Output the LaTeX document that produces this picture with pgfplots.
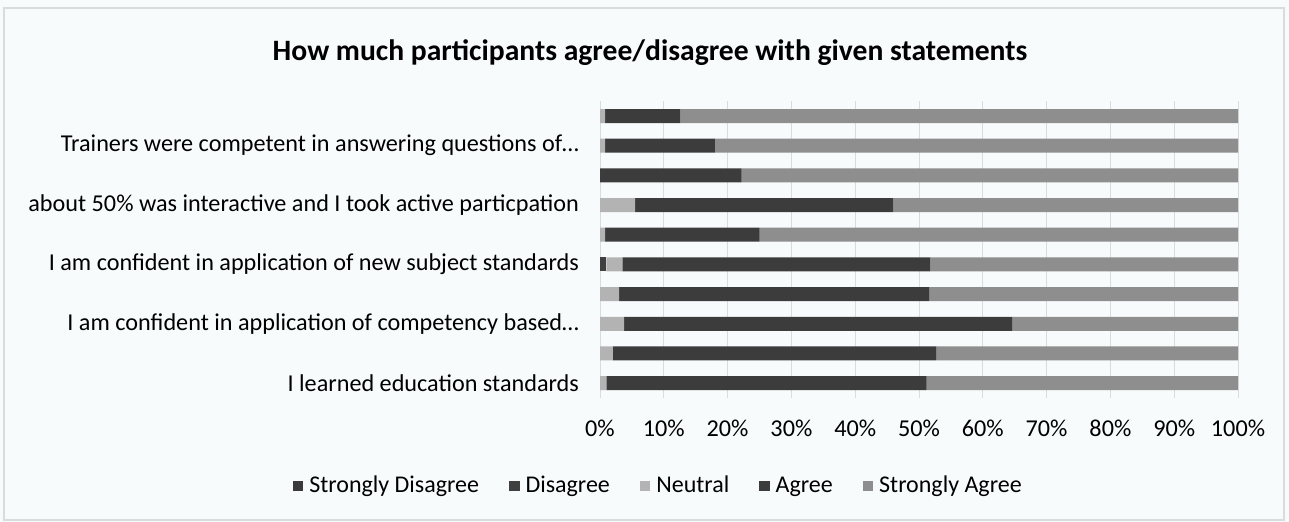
\documentclass[border=0pt]{standalone}
\usepackage{pgfplots}
\pgfplotsset{compat=1.18}
\usepackage{fontspec}
\setmainfont{Carlito}
\definecolor{bg}{HTML}{F7FBFC}
\definecolor{cSD}{HTML}{3A3A3A}
\definecolor{cD}{HTML}{404040}
\definecolor{cN}{HTML}{B3B3B3}
\definecolor{cA}{HTML}{3C3C3C}
\definecolor{cSA}{HTML}{8E8E8E}
\definecolor{gridc}{HTML}{D8DCDD}
\begin{document}
\begin{tikzpicture}
\path[use as bounding box, fill=bg] (0,0) rectangle (644.5pt,261pt);
\draw[gridc, line width=0.6pt] (2pt,1pt) rectangle (642pt,257pt);
\node[font=\fontsize{14.8}{16}\selectfont\bfseries] at (325pt,234.5pt) {How much participants agree/disagree with given statements};
\begin{axis}[
  at={(300pt,62pt)}, anchor=south west,
  scale only axis, width=319pt, height=148.4pt,
  xbar stacked, bar width=7pt,
  xmin=0, xmax=100, ymin=-0.5, ymax=9.5,
  axis line style={draw=none},
  xtick={0,10,20,30,40,50,60,70,80,90,100},
  xticklabel={\pgfmathprintnumber{\tick}\%},
  /pgf/number format/assume math mode=true,
  xmajorgrids, major grid style={gridc, line width=0.5pt},
  major tick length=0pt,
  ytick={0,2,4,6,8},
  yticklabels={{I learned education standards},
    {I am confident in application of competency based…},
    {I am confident in application of new subject standards},
    {about 50\% was interactive and I took active particpation},
    {Trainers were competent in answering questions of…}},
  ticklabel style={font=\fontsize{12.1}{14}\selectfont, text=black},
  xticklabel style={yshift=-7.5pt},
  yticklabel style={xshift=-7pt},
  legend columns=5,
  legend style={at={(0.093,-0.296)}, anchor=center, draw=none, fill=none,
    font=\fontsize{12}{14}\selectfont, text=black,
    /tikz/every odd column/.append style={column sep=1pt},
    /tikz/every even column/.append style={column sep=13pt}},
  legend image code/.code={\fill[#1] (0pt,-2.6pt) rectangle (5.2pt,2.6pt);},
]
\addplot[fill=cSD, draw=none] coordinates {(0,0) (0,1) (0,2) (0,3) (0,4) (0,5) (0,6) (0,7) (0,8) (0,9)};
\addplot[fill=cD, draw=none] coordinates {(0,0) (0,1) (0,2) (0,3) (1,4) (0,5) (0,6) (0,7) (0,8) (0,9)};
\addplot[fill=cN, draw=none] coordinates {(1,0) (2,1) (3.8,2) (3,3) (2.5,4) (0.8,5) (5.5,6) (0,7) (0.8,8) (0.8,9)};
\addplot[fill=cA, draw=none] coordinates {(50.2,0) (50.7,1) (60.8,2) (48.6,3) (48.3,4) (24.2,5) (40.5,6) (22.2,7) (17.2,8) (11.8,9)};
\addplot[fill=cSA, draw=none] coordinates {(48.8,0) (47.3,1) (35.4,2) (48.4,3) (48.2,4) (75,5) (54,6) (77.8,7) (82,8) (87.4,9)};
\legend{Strongly Disagree, Disagree, Neutral, Agree, Strongly Agree}
\end{axis}
\end{tikzpicture}
\end{document}
